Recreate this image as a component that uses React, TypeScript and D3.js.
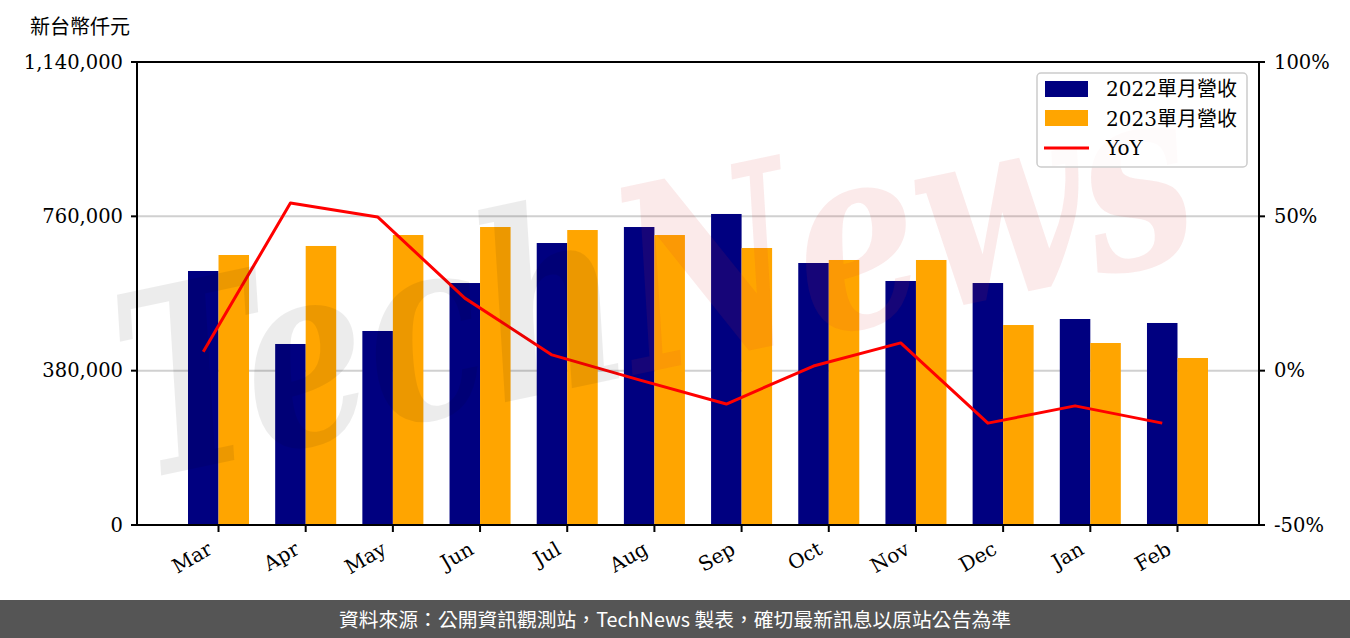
import React from 'react';
import * as d3 from 'd3';

const months = ['Mar', 'Apr', 'May', 'Jun', 'Jul', 'Aug', 'Sep', 'Oct', 'Nov', 'Dec', 'Jan', 'Feb'];
const rev2022 = [625400, 445700, 477700, 595800, 694300, 733700, 765800, 645100, 600800, 595800, 507200, 497400];
const rev2023 = [664800, 687000, 714000, 733700, 726300, 714000, 682000, 652500, 652500, 492400, 448100, 411200];
const yoy = [6.1, 54.3, 49.8, 23.5, 5.1, -3.0, -10.8, 1.5, 9.0, -17.0, -11.4, -17.0];
const leftTicks = [0, 380000, 760000, 1140000];
const rightTicks = [-50, 0, 50, 100];
const legendLabels = ['2022單月營收', '2023單月營收', 'YoY'];
const yUnit = '新台幣仟元';
const footerText = '資料來源：公開資訊觀測站，TechNews 製表，確切最新訊息以原站公告為準';

const W = 1350;
const H = 638;
const L = 137, R = 1259, T = 62, B = 525;
const BW = 0.35;
const NAVY = '#000080';
const ORANGE = '#FFA500';
const serif = "'DejaVu Serif', 'Noto Sans CJK TC', serif";

export default function App() {
  const x = d3.scaleLinear().domain([-0.76, 12.11]).range([L, R]);
  const y = d3.scaleLinear().domain([0, 1140000]).range([B, T]);
  const y2 = d3.scaleLinear().domain([-50, 100]).range([B, T]);
  const fmt = d3.format(',');
  const line = d3
    .line<number>()
    .x((_, i) => x(i))
    .y((d) => y2(d));

  return (
    <div style={{ position: 'absolute', left: 0, top: 0, width: W, height: H, background: '#fff' }}>
      <svg width={W} height={H} style={{ display: 'block' }}>
        <rect x={0} y={0} width={W} height={H} fill="#fff" />
        {/* gridlines */}
        {leftTicks
          .filter((t) => t > 0 && t < 1140000)
          .map((t) => (
            <line key={t} x1={L} x2={R} y1={y(t)} y2={y(t)} stroke="#d0d0d0" strokeWidth={2} />
          ))}
        {/* bars */}
        {rev2022.map((v, i) => (
          <rect key={'a' + i} x={x(i - BW / 2)} width={x(BW) - x(0)} y={y(v)} height={B - y(v)} fill={NAVY} />
        ))}
        {rev2023.map((v, i) => (
          <rect key={'b' + i} x={x(i + BW / 2)} width={x(BW) - x(0)} y={y(v)} height={B - y(v)} fill={ORANGE} />
        ))}
        {/* yoy line */}
        <path d={line(yoy) || ''} fill="none" stroke="#FF0000" strokeWidth={3} strokeLinejoin="round" />
        {/* spines */}
        <rect x={L} y={T} width={R - L} height={B - T} fill="none" stroke="#000" strokeWidth={2} />
        {/* left ticks */}
        {leftTicks.map((t) => (
          <g key={'l' + t}>
            <line x1={L - 6} x2={L} y1={y(t)} y2={y(t)} stroke="#000" strokeWidth={2} />
            <text x={L - 14} y={y(t)} dy="0.35em" textAnchor="end" fontFamily={serif} fontSize={19.5} fill="#000">
              {fmt(t)}
            </text>
          </g>
        ))}
        {/* right ticks */}
        {rightTicks.map((t) => (
          <g key={'r' + t}>
            <line x1={R} x2={R + 6} y1={y2(t)} y2={y2(t)} stroke="#000" strokeWidth={2} />
            <text x={R + 15} y={y2(t)} dy="0.35em" textAnchor="start" fontFamily={serif} fontSize={19.5} fill="#000">
              {t + '%'}
            </text>
          </g>
        ))}
        {/* x ticks */}
        {months.map((m, i) => {
          const tx = x(i + BW / 2);
          return (
            <g key={'x' + m}>
              <line x1={tx} x2={tx} y1={B} y2={B + 7} stroke="#000" strokeWidth={2} />
              <text
                transform={`translate(${tx - 5},${B + 28}) rotate(-30)`}
                textAnchor="end"
                fontFamily={serif}
                fontSize={20}
                fill="#000"
              >
                {m}
              </text>
            </g>
          );
        })}
        {/* y unit */}
        <text x={30} y={34} fontFamily={serif} fontSize={20} fill="#000">
          {yUnit}
        </text>
        {/* watermark (behind legend) */}
        <g transform="translate(140,480) rotate(-12)" style={{ pointerEvents: 'none' }}>
          <text
            x={0}
            y={0}
            fontFamily="'DejaVu Serif', serif"
            fontStyle="italic"
            fontWeight="bold"
            fontSize={255}
            textLength={1090}
            lengthAdjust="spacingAndGlyphs"
          >
            <tspan fill="#000" fillOpacity={0.075}>Tech</tspan>
            <tspan fill="#d83030" fillOpacity={0.1}>News</tspan>
          </text>
        </g>
        {/* legend */}
        <g>
          <rect x={1037} y={73} width={210} height={94} rx={4} fill="#fff" fillOpacity={0.8} stroke="#cccccc" strokeWidth={1.5} />
          <rect x={1045} y={81} width={43} height={16} fill={NAVY} />
          <rect x={1045} y={110} width={43} height={16} fill={ORANGE} />
          <line x1={1044} x2={1089} y1={148} y2={148} stroke="#FF0000" strokeWidth={3} />
          {legendLabels.map((lab, i) => (
            <text key={lab} x={1106} y={89 + i * 29.5} dy="0.36em" fontFamily={serif} fontSize={20} fill="#000">
              {lab}
            </text>
          ))}
        </g>
        {/* footer */}
        <rect x={0} y={600} width={W} height={38} fill="#555555" />
        <text x={W / 2} y={620} dy="0.35em" textAnchor="middle" fontFamily="'Noto Sans CJK TC', 'Noto Sans', sans-serif" fontSize={19.8} fill="#fff">
          {footerText}
        </text>
      </svg>
    </div>
  );
}
